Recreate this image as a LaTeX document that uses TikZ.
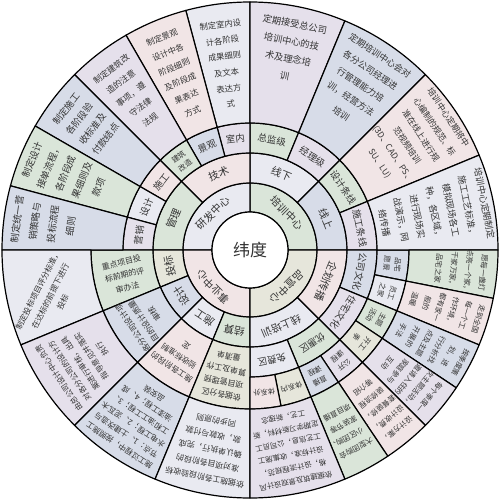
\documentclass[tikz,border=0pt]{standalone}
\usepackage{fontspec}
\setmainfont{Noto Sans CJK SC}
\definecolor{cL}{HTML}{E9EAF1}
\definecolor{cB}{HTML}{D7DCE8}
\definecolor{cP}{HTML}{F1E5E6}
\definecolor{cG}{HTML}{DAE5D9}
\definecolor{cV}{HTML}{E5E0EB}
\definecolor{cY}{HTML}{E6E6DB}
\definecolor{tx}{HTML}{333333}
\tikzset{
  segline/.style={draw=black,line width=1.2pt,line join=round},
  lbl/.style={align=center,inner sep=0pt,text=tx},
}
\newcommand\fz[2]{\fontsize{#1}{#2}\selectfont}
\newcommand\seg[5]{\path[segline,fill=#5] (#1:#3pt) arc[start angle=#1,end angle=#2,radius=#3pt] -- (#2:#4pt) arc[start angle=#2,end angle=#1,radius=#4pt] -- cycle;}
\newcommand\lab[6]{\pgfmathsetmacro\labang{(#2+#3)/2}\node[lbl,font=#5,rotate=\labang-90] (#1) at (\labang:#4pt) {#6};}
\newcommand\labx[7]{\pgfmathsetmacro\labang{(#2+#3)/2}\node[lbl,font=#5,rotate=#7] (#1) at (\labang:#4pt) {#6};}
\begin{document}
\begin{tikzpicture}[x=1pt,y=1pt]
\useasboundingbox (-250,-250) rectangle (250,250);
\fill[white] (-250,-250) rectangle (250,250);
% ring 1
\seg{0}{90}{38}{67}{cG}\lab{a1}{0}{90}{52.5}{\fz{10.5}{12}}{培训中心}
\seg{90}{180}{38}{67}{cL}\lab{a2}{90}{180}{52.5}{\fz{10.5}{12}}{研发中心}
\seg{180}{270}{38}{67}{cP}\lab{a3}{180}{270}{52.5}{\fz{10.5}{12}}{事业中心}
\seg{270}{360}{38}{67}{cY}\lab{a4}{270}{360}{52.5}{\fz{10.5}{12}}{品宣中心}
% ring 2
\seg{45}{90}{67}{97}{cL}\lab{b1}{45}{90}{82}{\fz{10.5}{12}}{线下}
\seg{0}{45}{67}{97}{cB}\lab{b2}{0}{45}{82}{\fz{10.5}{12}}{线上}
\seg{90}{135}{67}{97}{cP}\lab{b3}{90}{135}{82}{\fz{10.5}{12}}{技术}
\seg{135}{180}{67}{97}{cG}\lab{b4}{135}{180}{82}{\fz{10.5}{12}}{管理}
\seg{180}{202.5}{67}{97}{cY}\lab{b5}{180}{202.5}{82}{\fz{10.5}{12}}{投标}
\seg{202.5}{225}{67}{97}{cB}\lab{b6}{202.5}{225}{82}{\fz{10.5}{12}}{设计}
\seg{225}{247.5}{67}{97}{cL}\lab{b7}{225}{247.5}{82}{\fz{10.5}{12}}{施工}
\seg{247.5}{270}{67}{97}{cG}\lab{b8}{247.5}{270}{82}{\fz{10.5}{12}}{结算}
\seg{270}{315}{67}{97}{cL}\lab{b9}{270}{315}{82}{\fz{10.5}{12}}{线上培训}
\seg{315}{360}{67}{97}{cP}\lab{b10}{315}{360}{82}{\fz{10.5}{12}}{企划传播}
% ring 3 (97-127)
\seg{67.5}{90}{97}{127}{cG}\lab{c1}{67.5}{90}{112}{\fz{9.5}{11}}{总监级}
\seg{45}{67.5}{97}{127}{cV}\lab{c2}{45}{67.5}{112}{\fz{9.5}{11}}{经理级}
\seg{22.5}{45}{97}{127}{cG}\lab{c3}{22.5}{45}{112}{\fz{9.5}{11}}{设计条线}
\seg{0}{22.5}{97}{127}{cV}\lab{c4}{0}{22.5}{112}{\fz{9.5}{11}}{施工条线}
\seg{90}{105}{97}{127}{cV}\lab{c5}{90}{105}{112}{\fz{9.5}{11}}{室内}
\seg{105}{120}{97}{127}{cB}\lab{c6}{105}{120}{112}{\fz{9.5}{11}}{景观}
\seg{120}{135}{97}{127}{cG}\lab{c7}{120}{135}{112}{\fz{7.5}{11}}{建筑\\改造}
\seg{135}{150}{97}{127}{cP}\lab{c8}{135}{150}{112}{\fz{9.5}{11}}{施工}
\seg{150}{165}{97}{127}{cL}\lab{c9}{150}{165}{112}{\fz{9.5}{11}}{设计}
\seg{165}{180}{97}{127}{cV}\lab{c10}{165}{180}{112}{\fz{9.5}{11}}{营销}
\seg{337.5}{360}{97}{127}{cB}\lab{c11}{337.5}{360}{112}{\fz{9.5}{11}}{公司文化}
\seg{315}{337.5}{97}{127}{cV}\lab{c12}{315}{337.5}{112}{\fz{9.5}{11}}{住宅文化}
\seg{292.5}{315}{97}{127}{cG}\lab{c13}{292.5}{315}{112}{\fz{9.5}{11}}{优惠区}
\seg{270}{292.5}{97}{127}{cL}\lab{c14}{270}{292.5}{112}{\fz{9.5}{11}}{免费区}
% ring 3 lower left (97-159)
\seg{180}{202.5}{97}{159}{cG}\labx{d1}{180}{202.5}{128}{\fz{8}{13}}{重点项目投\\标前期的评\\审办法}{14}
\seg{202.5}{225}{97}{159}{cB}\lab{d2}{202.5}{225}{128}{\fz{8}{13}}{各分公司设计项\\目的设计质量\\审核}
\seg{225}{247.5}{97}{159}{cP}\lab{d3}{225}{247.5}{128}{\fz{8}{13}}{施工各阶段的\\验收标准制\\定}
\seg{247.5}{270}{97}{159}{cY}\lab{d4}{247.5}{270}{128}{\fz{8}{13}}{依据各分区\\项目管理预\\算单及工作\\量清单}
% ring 4 lower right (127-159)
\seg{348.75}{360}{127}{159}{cB}\lab{e1}{348.75}{360}{143}{\fz{7.3}{11}}{品宅\\愿景}
\seg{337.5}{348.75}{127}{159}{cL}\lab{e2}{337.5}{348.75}{143}{\fz{7.3}{11}}{员工\\之家}
\seg{326.25}{337.5}{127}{159}{cG}\lab{e3}{326.25}{337.5}{143}{\fz{7.3}{11}}{主题\\活动}
\seg{315}{326.25}{127}{159}{cY}\lab{e4}{315}{326.25}{143}{\fz{7.3}{11}}{开工\\季}
\seg{303.75}{315}{127}{159}{cV}\lab{e5}{303.75}{315}{143}{\fz{7.3}{11}}{公开\\课程}
\seg{292.5}{303.75}{127}{159}{cB}\lab{e6}{292.5}{303.75}{143}{\fz{7.3}{11}}{直播\\课程}
\seg{281.25}{292.5}{127}{159}{cY}\lab{e7}{281.25}{292.5}{143}{\fz{7.3}{11}}{体系内}
\seg{270}{281.25}{127}{159}{cP}\lab{e8}{270}{281.25}{143}{\fz{7.3}{11}}{体系外}
% outer upper left
\seg{90}{105}{127}{248}{cL}\lab{f1}{90}{105}{187}{\fz{8.3}{16}}{制定室内设\\计各阶段\\成果细则\\及文本\\表达方\\式}
\seg{105}{120}{127}{248}{cP}\lab{f2}{105}{120}{190}{\fz{8.3}{16}}{制定景观\\设计中各\\阶段细则\\及阶段成\\果表达\\方式}
\seg{120}{135}{127}{248}{cV}\lab{f3}{120}{135}{196}{\fz{8.5}{16}}{制定建筑改\\造的注意\\事项，遵\\守法律\\法规}
\seg{135}{150}{127}{248}{cB}\lab{f4}{135}{150}{207}{\fz{9.3}{16.5}}{制定施工\\各阶段验\\收标准及\\付款结点}
\seg{150}{165}{127}{248}{cG}\lab{f5}{150}{165}{200}{\fz{9.5}{18}}{制定设计\\接单流程，\\各阶段成\\果细则及\\款项}
\seg{165}{180}{127}{248}{cB}\lab{f6}{165}{180}{208}{\fz{9.5}{18}}{制定统一营\\销策略与\\投标流程\\细则}
% outer upper right
\seg{67.5}{90}{127}{248}{cV}\lab{g1}{67.5}{90}{204}{\fz{9.3}{17.5}}{定期接受总公司\\培训中心的技\\术及理念培\\训}
\seg{45}{67.5}{127}{248}{cB}\lab{g2}{45}{67.5}{199}{\fz{9}{17.5}}{定期培训中心会对\\各分公司经理进\\行管理能力培\\训，经营方法\\培训}
\seg{22.5}{45}{127}{248}{cP}\lab{g3}{22.5}{45}{197}{\fz{8.5}{16.5}}{培训中心定期将中\\心编制的规范、标\\准在线上进行规\\范视频培训\\(3D、CAD、PS、\\SU、LU)}
\seg{0}{22.5}{127}{248}{cL}\lab{g4}{0}{22.5}{188}{\fz{9}{17}}{培训中心定期制定\\施工工艺标准，\\模拟现场各工\\种，各区域，\\进行现场实\\战演示，网\\络传播}
% outer lower left
\seg{180}{202.5}{159}{248}{cL}\labx{h1}{183}{203}{205}{\fz{8}{14}}{制定投标项目评分标准，\\在达标的前提下进行\\投标}{63}
\seg{202.5}{225}{159}{248}{cV}\lab{h2}{202.5}{225}{204}{\fz{7.8}{13}}{由总公司设计中心负责\\对各分公司的设计方\\案进行审核，出具\\指导意见并落实\\执行}
\seg{225}{247.5}{159}{248}{cB}\lab{h3}{225}{247.5}{204}{\fz{7.8}{12.5}}{施工过程中，按照施工\\节点：1、土建改造与\\水电工程；2、泥瓦木\\工和油工工程；3、\\油漆工程；4、成\\品安装}
\seg{247.5}{270}{159}{248}{cL}\lab{h4}{247.5}{270}{203}{\fz{8}{14.5}}{依据施工各阶段验收标\\准对项目各阶段的\\确认单执行，完成\\款，收款与付款\\同步的原则}
% outer lower right
\seg{348.75}{360}{159}{248}{cG}\lab{k1}{348.75}{360}{212}{\fz{7.4}{15}}{愿每一盏灯\\点亮一个家，\\千家万家，\\品宅之家}
\seg{337.5}{348.75}{159}{248}{cP}\lab{k2}{337.5}{348.75}{205}{\fz{7.4}{13.5}}{走到全国\\每一个工\\作环境，\\都有家一\\般的\\温暖}
\seg{326.25}{337.5}{159}{248}{cB}\lab{k3}{326.25}{337.5}{205}{\fz{7.4}{13.5}}{按季度策\\划，进\\行分析找\\点及主题\\开展的\\手法}
\seg{315}{326.25}{159}{248}{cV}\lab{k4}{315}{326.25}{205}{\fz{7.4}{13.5}}{每个季度一\\次主题活动，\\邀请入住的\\家庭参与\\互动}
\seg{303.75}{315}{159}{248}{cP}\lab{k5}{303.75}{315}{205}{\fz{7.4}{13.5}}{设计方案，\\设计收费，\\套餐装修，\\装修流程\\等介绍}
\seg{292.5}{303.75}{159}{248}{cG}\lab{k6}{292.5}{303.75}{205}{\fz{7.4}{13.5}}{大型团购会\\、小区团购、\\家装节等\\项目直播}
\seg{270}{292.5}{159}{248}{cV}\lab{k7}{270}{292.5}{203}{\fz{7.4}{13}}{依据建筑及景观设计风\\格，设计流程规范，\\设计标准，收集施工\\工艺信息，公司员工\\定期学习新材料，新\\工艺，新理念}
% centre
\draw[segline,fill=white] (0,0) circle[radius=38pt];
\node[lbl,font=\fz{17}{20}] (ctr) at (0,0) {纬度};
\end{tikzpicture}
\end{document}
